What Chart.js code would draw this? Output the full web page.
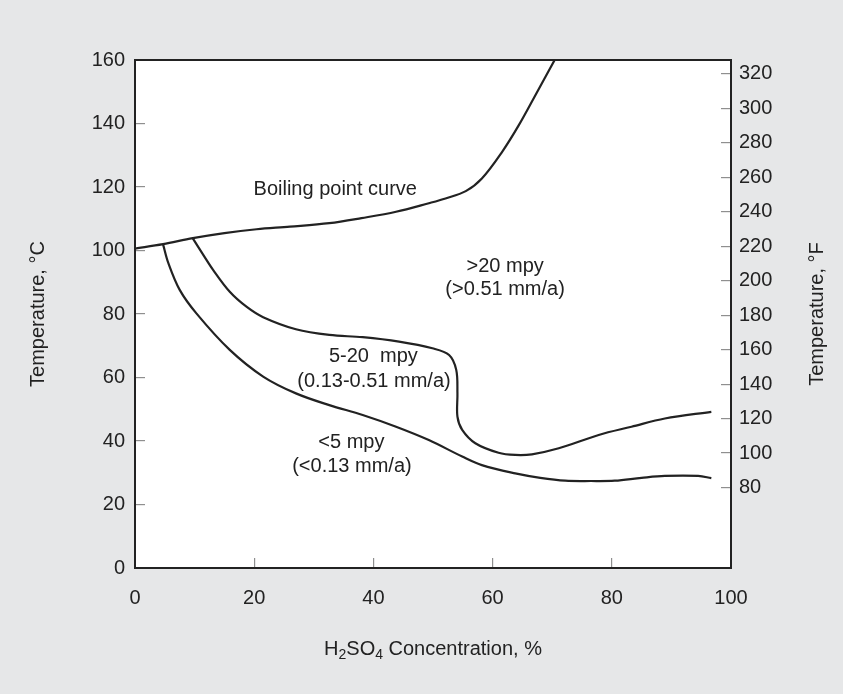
<!DOCTYPE html>
<html>
<head>
<meta charset="utf-8">
<title>Corrosión H2SO4</title>
<script src="https://cdn.jsdelivr.net/npm/chart.js@4.4.0/dist/chart.umd.min.js"></script>
<style>
    html, body { margin: 0; padding: 0; background: #e6e7e8; }
    canvas { display: block; }
</style>
</head>
<body>
<canvas id="chartCorrosion" width="843" height="694"></canvas>
<script>
// Curva de ebullición (concentración %, temperatura °C)
const ebullicionX = [0, 4.7, 9.7, 15, 20.4, 26, 32.6, 38, 43.8, 49.3, 52.1, 55.5, 58.2, 61.6, 64.4, 67.2, 70.5];
const ebullicionY = [100.6, 102, 103.9, 105.5, 106.7, 107.5, 108.6, 110.2, 112.2, 114.9, 116.4, 118.7, 122.7, 131.1, 139.5, 149, 160.3];

// Límite entre 5-20 mpy y >20 mpy
const limiteAltoX = [9.7, 11.4, 13.1, 15.9, 18.7, 21.5, 27, 32.6, 38.2, 44.3, 49.9, 52.7, 53.9, 54.1, 54.1, 54.9, 57.1, 61, 63.8, 66.6, 71.1, 77.8, 83.3, 88.9, 96.7];
const limiteAltoY = [103.8, 98.8, 93.9, 87, 82.3, 79, 75.2, 73.4, 72.7, 71.3, 69.2, 67.1, 62.4, 55, 47.7, 43.5, 39.3, 36.3, 35.6, 35.8, 37.7, 41.9, 44.5, 47.1, 49.2];

// Límite entre <5 mpy y 5-20 mpy
const limiteBajoX = [4.7, 5.6, 7.5, 10.3, 15.9, 21.5, 27, 32.6, 38.2, 43.8, 49.3, 54.9, 58.2, 63.8, 68, 72.2, 76.5, 80.5, 85, 88.9, 94.5, 96.7];
const limiteBajoY = [102, 96, 87.6, 80.2, 68.7, 60.3, 55, 51.3, 48.2, 44.5, 40.3, 35.1, 32.4, 29.8, 28.4, 27.5, 27.4, 27.5, 28.4, 29, 29, 28.3];

// Marcas de los ejes
const ticksX = [0, 20, 40, 60, 80, 100];
const ticksC = [0, 20, 40, 60, 80, 100, 120, 140, 160];
const ticksF = [80, 100, 120, 140, 160, 180, 200, 220, 240, 260, 280, 300, 320];

// Rótulos de las zonas (en unidades de los ejes)
const notas = [
    { texto: 'Boiling point curve', x: 33.6, y: 119.1 },
    { texto: '>20 mpy', x: 62.1, y: 95.1 },
    { texto: '(>0.51 mm/a)', x: 62.1, y: 87.6 },
    { texto: '5-20  mpy', x: 40.0, y: 66.6 },
    { texto: '(0.13-0.51 mm/a)', x: 40.1, y: 58.9 },
    { texto: '<5 mpy', x: 36.3, y: 39.5 },
    { texto: '(<0.13 mm/a)', x: 36.4, y: 32.1 }
];

const FUENTE = '"Liberation Sans", Arial, Helvetica, sans-serif';
const TINTA = '#222222';

function puntos(xs, ys) {
    return xs.map((x, i) => ({ x: x, y: ys[i] }));
}

function curva(label, xs, ys) {
    return {
        label: label,
        data: puntos(xs, ys),
        borderColor: TINTA,
        borderWidth: 2.2,
        pointRadius: 0,
        tension: 0.35,
        fill: false,
        yAxisID: 'y'
    };
}

// Fondo gris, área blanca, marco, rótulos y títulos de ejes
const decoracion = {
    id: 'decoracion',
    beforeDraw(chart) {
        const { ctx, chartArea: a } = chart;
        ctx.save();
        ctx.fillStyle = '#e6e7e8';
        ctx.fillRect(0, 0, chart.width, chart.height);
        ctx.fillStyle = '#ffffff';
        ctx.fillRect(a.left, a.top, a.right - a.left, a.bottom - a.top);
        ctx.restore();
    },
    afterDraw(chart) {
        const { ctx, chartArea: a, scales } = chart;
        ctx.save();

        // marco del gráfico
        ctx.strokeStyle = TINTA;
        ctx.lineWidth = 2;
        ctx.strokeRect(a.left, a.top, a.right - a.left, a.bottom - a.top);

        // rótulos de las zonas
        ctx.fillStyle = TINTA;
        ctx.font = '20px ' + FUENTE;
        ctx.textAlign = 'center';
        ctx.textBaseline = 'middle';
        notas.forEach(n => {
            ctx.fillText(n.texto, scales.x.getPixelForValue(n.x), scales.y.getPixelForValue(n.y));
        });

        // título del eje derecho (°F), leído de abajo hacia arriba
        ctx.save();
        ctx.translate(817, (a.top + a.bottom) / 2);
        ctx.rotate(-Math.PI / 2);
        ctx.fillText('Temperature, °F', 0, 0);
        ctx.restore();

        // título del eje X con subíndices
        const partes = [['H', false], ['2', true], ['SO', false], ['4', true], [' Concentration, %', false]];
        const anchoDe = p => {
            ctx.font = (p[1] ? '14px ' : '20px ') + FUENTE;
            return ctx.measureText(p[0]).width;
        };
        const total = partes.reduce((s, p) => s + anchoDe(p), 0);
        let cx = (a.left + a.right) / 2 - total / 2;
        const cy = 648;
        ctx.textAlign = 'left';
        ctx.textBaseline = 'alphabetic';
        partes.forEach(p => {
            const w = anchoDe(p);
            ctx.fillText(p[0], cx, p[1] ? cy + 11 : cy + 7);
            cx += w;
        });

        ctx.restore();
    }
};

const ctx = document.getElementById('chartCorrosion');
console.log('Creando gráfico de corrosión...');

window.chartCorrosionInstance = new Chart(ctx, {
    type: 'line',
    data: {
        datasets: [
            curva('Boiling point curve', ebullicionX, ebullicionY),
            curva('5-20 / >20 mpy', limiteAltoX, limiteAltoY),
            curva('<5 / 5-20 mpy', limiteBajoX, limiteBajoY)
        ]
    },
    options: {
        responsive: false,
        animation: false,
        layout: { padding: { top: 60, left: 0, right: 0, bottom: 0 } },
        plugins: {
            legend: { display: false },
            tooltip: { enabled: false }
        },
        scales: {
            x: {
                type: 'linear',
                position: 'bottom',
                min: 0,
                max: 100,
                afterBuildTicks: s => { s.ticks = ticksX.map(v => ({ value: v })); },
                afterFit: s => { s.height = 126; },
                ticks: { color: TINTA, font: { family: FUENTE, size: 20 }, padding: 28 },
                grid: { drawOnChartArea: false, tickLength: -10, color: '#8f8f8f', lineWidth: 1.2 },
                border: { color: TINTA, width: 2 }
            },
            y: {
                type: 'linear',
                position: 'left',
                min: 0,
                max: 160,
                afterBuildTicks: s => { s.ticks = ticksC.map(v => ({ value: v })); },
                afterFit: s => { s.width = 135; },
                ticks: { color: TINTA, font: { family: FUENTE, size: 20 }, padding: 20 },
                grid: { drawOnChartArea: false, tickLength: -10, color: '#8f8f8f', lineWidth: 1.2 },
                border: { color: TINTA, width: 2 },
                title: {
                    display: true,
                    text: 'Temperature, °C',
                    color: TINTA,
                    font: { family: FUENTE, size: 20 },
                    padding: { top: 26, bottom: 0 }
                }
            },
            yF: {
                type: 'linear',
                position: 'right',
                min: 33.3,
                max: 328.1,
                afterBuildTicks: s => { s.ticks = ticksF.map(v => ({ value: v })); },
                afterFit: s => { s.width = 112; },
                ticks: { color: TINTA, font: { family: FUENTE, size: 20 }, padding: 18 },
                grid: { drawOnChartArea: false, tickLength: -10, color: '#8f8f8f', lineWidth: 1.2 },
                border: { color: TINTA, width: 2 }
            }
        }
    },
    plugins: [decoracion]
});

console.log('Gráfico creado');
</script>
</body>
</html>
